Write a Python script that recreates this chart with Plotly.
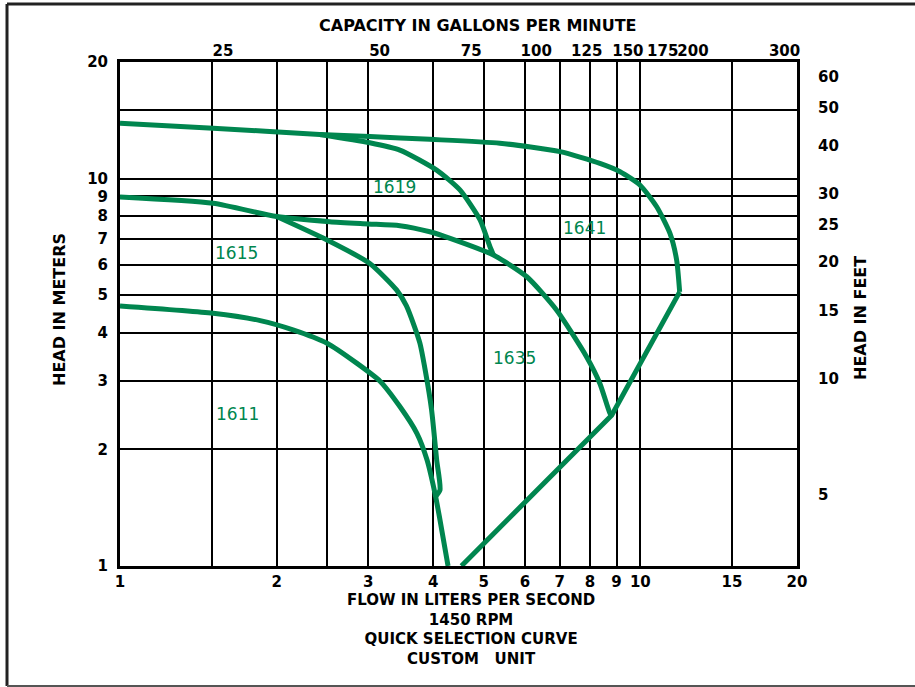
"""
Quick selection pump curves, 1450 RPM (log-log flow vs head)
"""
import math
import plotly.graph_objects as go

# --- data (flow in L/s, head in m) ---
q_1641 = [1.0, 1.51, 2.42, 3.02, 3.94, 5.37, 7.01, 8.36, 9.14, 9.98, 10.75, 11.4, 11.74, 11.9]
h_1641 = [13.9, 13.5, 13.0, 12.84, 12.63, 12.34, 11.74, 10.95, 10.42, 9.63, 8.46, 7.22, 6.17, 5.1]

q_1619 = [2.42, 3.02, 3.45, 4.06, 4.5, 4.92, 5.14, 5.22]
h_1619 = [13.0, 12.38, 11.85, 10.52, 9.35, 7.82, 6.67, 6.35]

q_1635 = [1.0, 1.51, 2.0, 2.53, 3.0, 3.45, 3.94, 4.31, 5.22, 6.05, 6.9, 7.88, 8.36, 8.74, 8.81]
h_1635 = [8.97, 8.64, 7.98, 7.74, 7.64, 7.56, 7.29, 7.01, 6.35, 5.58, 4.58, 3.47, 2.96, 2.48, 2.45]

q_1615 = [2.0, 2.5, 3.02, 3.4, 3.55, 3.68, 3.77, 3.86, 3.97, 4.06, 4.12, 4.02]
h_1615 = [7.98, 6.94, 6.04, 5.16, 4.7, 4.15, 3.76, 3.2, 2.53, 1.88, 1.57, 1.5]

q_1611 = [1.0, 1.51, 1.86, 2.15, 2.5, 2.85, 3.16, 3.45, 3.72, 3.89, 4.03, 4.11, 4.27]
h_1611 = [4.69, 4.49, 4.3, 4.07, 3.76, 3.34, 3.0, 2.58, 2.2, 1.88, 1.54, 1.34, 1.0]

# right-hand envelope (end of run line)
q_env = [11.9, 8.81, 4.53]
h_env = [5.1, 2.45, 1.0]

# axis ticks
flow_ticks = [1, 1.5, 2, 2.5, 3, 4, 5, 6, 7, 8, 9, 10, 15, 20]
flow_text = ["1", "", "2", "", "3", "4", "5", "6", "7", "8", "9", "10", "15", "20"]
head_ticks = [1, 2, 3, 4, 5, 6, 7, 8, 9, 10, 15, 20]
head_text = ["1", "2", "3", "4", "5", "6", "7", "8", "9", "10", "", "20"]
gpm_ticks = [25, 50, 75, 100, 125, 150, 175, 200, 300]
feet_ticks = [5, 10, 15, 20, 25, 30, 40, 50, 60]

GPM_TO_LPS = 0.0630902
FT_TO_M = 0.3048

GREEN = "#00864f"
FONT = "DejaVu Sans"
LOG_MAX = math.log10(20)

fig = go.Figure()

curve_line = dict(color=GREEN, width=5, shape="spline", smoothing=0.6)
for q, h in [(q_1635, h_1635), (q_1615, h_1615), (q_1611, h_1611), (q_1619, h_1619)]:
    fig.add_trace(go.Scatter(x=q, y=h, mode="lines", line=curve_line, hoverinfo="skip"))

fig.add_trace(go.Scatter(x=q_env, y=h_env, mode="lines",
                         line=dict(color=GREEN, width=5), hoverinfo="skip"))
# top curve sits on the secondary axes (same ranges) so those axes get drawn
fig.add_trace(go.Scatter(x=q_1641, y=h_1641, mode="lines", line=curve_line,
                         xaxis="x2", yaxis="y2", hoverinfo="skip"))

tick_font = dict(family=FONT, size=15, color="black", weight="bold")

fig.update_layout(
    width=915, height=687,
    margin=dict(l=120, r=118, t=62, b=121),
    paper_bgcolor="white", plot_bgcolor="white",
    showlegend=False,
    xaxis=dict(
        type="log", range=[0, LOG_MAX], automargin=False,
        tickvals=flow_ticks, ticktext=flow_text, ticks="", tickangle=0,
        tickfont=tick_font, ticklabelstandoff=0,
        showgrid=True, gridcolor="black", gridwidth=2,
        showline=True, linecolor="black", linewidth=3, mirror=True,
        zeroline=False,
    ),
    yaxis=dict(
        type="log", range=[0, LOG_MAX], automargin=False,
        tickvals=head_ticks, ticktext=head_text, ticks="",
        tickfont=tick_font, ticklabelstandoff=6,
        showgrid=True, gridcolor="black", gridwidth=2,
        showline=True, linecolor="black", linewidth=3, mirror=True,
        zeroline=False,
    ),
    xaxis2=dict(
        type="log", range=[0, LOG_MAX], overlaying="x", side="top", anchor="y",
        automargin=False,
        tickvals=[g * GPM_TO_LPS for g in gpm_ticks], ticktext=[str(g) for g in gpm_ticks],
        ticks="", tickangle=0, tickfont=tick_font, ticklabelstandoff=2,
        showgrid=False, zeroline=False, showline=False,
    ),
    yaxis2=dict(
        type="log", range=[0, LOG_MAX], overlaying="y", side="right", anchor="x",
        automargin=False,
        tickvals=[f * FT_TO_M for f in feet_ticks], ticktext=[str(f) for f in feet_ticks],
        ticks="", tickfont=tick_font, ticklabelstandoff=20,
        showgrid=False, zeroline=False, showline=False,
    ),
)

# heavier lower parts of the 7 and 8 L/s grid lines
for xv in [7, 8]:
    fig.add_shape(type="line", xref="x", yref="y",
                  x0=math.log10(xv), x1=math.log10(xv), y0=0, y1=math.log10(5.8),
                  line=dict(color="black", width=3.5), layer="below")

# outer frame (left, top, bottom edges of the sheet)
frame = dict(xref="paper", yref="paper", type="line")
fig.add_shape(**frame, x0=-0.1669, x1=-0.1669, y0=-0.2381, y1=1.1151,
              line=dict(color="#222", width=3))
fig.add_shape(**frame, x0=-0.1669, x1=1.18, y0=1.1151, y1=1.1151,
              line=dict(color="#222", width=3))
fig.add_shape(**frame, x0=-0.1669, x1=1.18, y0=-0.2381, y1=-0.2381,
              line=dict(color="#555", width=2))

# curve labels (log coordinates)
labels = [("1641", 0.8935, 0.8725), ("1619", 0.5284, 0.978), ("1615", 0.2248, 0.808),
          ("1635", 0.759, 0.537), ("1611", 0.2267, 0.392)]
for text, lx, ly in labels:
    fig.add_annotation(x=lx, y=ly, xref="x", yref="y", text=text, showarrow=False,
                       xanchor="center", yanchor="middle",
                       font=dict(family=FONT, size=17, color=GREEN))

title_font = dict(family=FONT, size=16, color="black", weight="bold")
titles = [
    ("CAPACITY IN GALLONS PER MINUTE", 0.529, 1.0734, 0),
    ("HEAD IN METERS", -0.0886, 0.508, -90),
    ("HEAD IN FEET", 1.093, 0.492, -90),
]
for text, tx, ty, ang in titles:
    fig.add_annotation(x=tx, y=ty, xref="paper", yref="paper", text=text, textangle=ang,
                       showarrow=False, xanchor="center", yanchor="middle", font=title_font)

# caption block under the flow axis
fig.add_annotation(
    x=0.518, y=-0.1265, xref="paper", yref="paper", showarrow=False,
    xanchor="center", yanchor="middle", align="center",
    text="FLOW IN LITERS PER SECOND<br>1450 RPM<br>QUICK SELECTION CURVE<br>CUSTOM&nbsp;&nbsp;&nbsp;UNIT",
    font=dict(family=FONT, size=15, color="black", weight="bold"),
)

# drop the default page margin so the figure fills the window
fig.write_html("out.html", config={"displayModeBar": False},
               post_script="document.body.style.margin = '0';")
